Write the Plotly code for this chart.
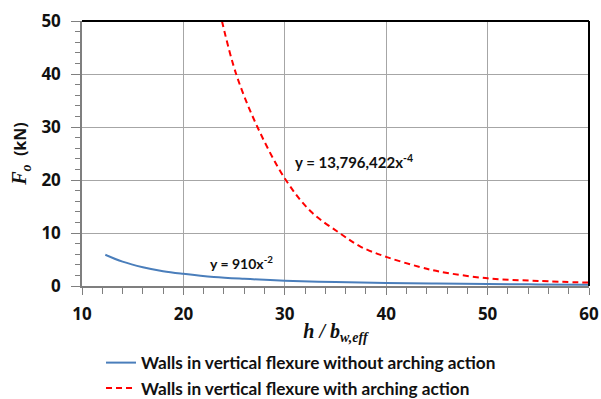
import plotly.graph_objects as go

# Blue series: walls in vertical flexure without arching action
blue_x = [12.3, 14, 16, 18, 20, 23, 26, 30, 35, 40, 45, 50, 55, 60]
blue_y = [5.9, 4.6, 3.55, 2.8, 2.3, 1.7, 1.35, 1.0, 0.75, 0.57, 0.45, 0.36, 0.3, 0.25]

# Red series: walls in vertical flexure with arching action
red_x = [23.8, 25.2, 27.3, 30.1, 32.6, 35.4, 37.5, 40, 43.3, 45.3, 50, 55, 60]
red_y = [50, 40, 30, 20, 14, 10, 7.4, 5.5, 3.6, 2.7, 1.45, 0.95, 0.64]

x_ticks = [10, 20, 30, 40, 50, 60]
y_ticks = [0, 10, 20, 30, 40, 50]

blue_name = "Walls in vertical flexure without arching action"
red_name = "Walls in vertical flexure with arching action"
blue_eq = "y = 910x<sup>-2</sup>"
red_eq = "y = 13,796,422x<sup>-4</sup>"

SANS = "Open Sans"
LEG = "Lato"
SERIF = "Liberation Serif"

fig = go.Figure()
fig.add_trace(go.Scatter(x=blue_x, y=blue_y, mode="lines", name=blue_name,
                         line=dict(color="#4a7ebb", width=2, shape="spline"),
                         legendgroup="a"))
fig.add_trace(go.Scatter(x=red_x, y=red_y, mode="lines", name=red_name,
                         line=dict(color="#ff0000", width=2, dash="6px,4px", shape="spline"),
                         legendgroup="b"))

fig.add_annotation(x=25.75, y=4.5, text=blue_eq, showarrow=False,
                   font=dict(family=LEG, size=14, color="#111", weight="bold"))
fig.add_annotation(x=36.8, y=23.4, text=red_eq, showarrow=False,
                   font=dict(family=LEG, size=15, color="#111", weight="bold"))

# plot frame top/right
fig.add_shape(type="line", xref="paper", yref="paper", x0=0, x1=1, y0=1, y1=1,
              line=dict(color="black", width=2))
fig.add_shape(type="line", xref="paper", yref="paper", x0=1, x1=1, y0=0, y1=1,
              line=dict(color="black", width=2))

fig.update_layout(
    width=601, height=399,
    margin=dict(l=82, r=12, t=21, b=113),
    plot_bgcolor="white", paper_bgcolor="white",
    showlegend=True,
    legend=dict(orientation="v", x=0.0375, xanchor="left",
                yref="container", y=0.1355, yanchor="top",
                font=dict(family=LEG, size=17.2, color="#111", weight="bold"),
                tracegroupgap=0, bgcolor="rgba(0,0,0,0)", borderwidth=0),
    xaxis=dict(range=[10, 60], tickvals=x_ticks, showgrid=True, gridcolor="#a6a6a6", gridwidth=1,
               showline=True, linecolor="#7f7f7f", linewidth=1.5,
               ticks="outside", ticklen=7, tickcolor="#7f7f7f", ticklabelstandoff=5,
               ticklabeloverflow="allow",
               minor=dict(dtick=2, ticks="outside", ticklen=6, tickcolor="#7f7f7f", showgrid=False),
               tickfont=dict(family=SANS, size=17, color="#111", weight="bold"),
               zeroline=False, automargin=False,
               title=dict(text="<b><i>h / b</i></b><sub><b><i>w,eff</i></b></sub>",
                          font=dict(family=SERIF, size=20, color="#111"), standoff=17)),
    yaxis=dict(range=[0, 50], tickvals=y_ticks, showgrid=True, gridcolor="#a6a6a6", gridwidth=1,
               showline=True, linecolor="#7f7f7f", linewidth=1.5,
               ticks="outside", ticklen=9, tickcolor="#7f7f7f", ticklabelstandoff=7,
               ticklabeloverflow="allow",
               minor=dict(dtick=2, ticks="outside", ticklen=5, tickcolor="#7f7f7f", showgrid=False),
               tickfont=dict(family=SANS, size=17, color="#111", weight="bold"),
               zeroline=False, automargin=False,
               title=dict(text="<b><i>F</i></b><sub><b><i>o</i></b></sub><span style=\"font-family:'Open Sans';font-size:16px;font-weight:bold\">  (kN)</span>",
                          font=dict(family=SERIF, size=20, color="#111"), standoff=9)),
)

fig.write_html("out.html", config={"displayModeBar": False},
               post_script="document.body.style.margin='0';document.body.style.overflow='hidden';")
